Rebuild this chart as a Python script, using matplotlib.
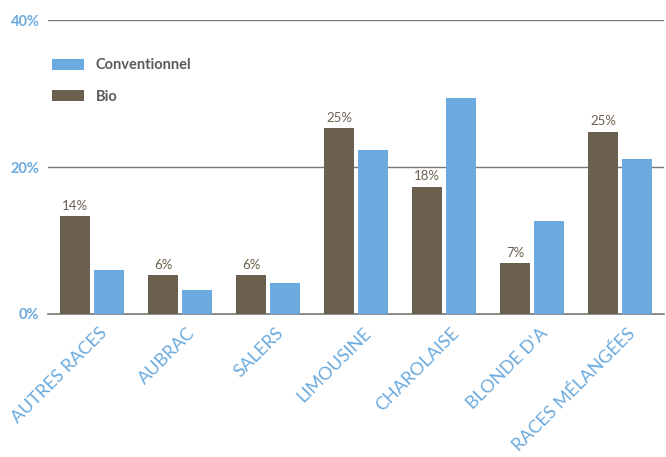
import numpy as np
import matplotlib.pyplot as plt

races = ["AUTRES RACES", "AUBRAC", "SALERS", "LIMOUSINE", "CHAROLAISE",
         "BLONDE D'A", "RACES MÉLANGÉES"]
bio = [13.3, 5.3, 5.3, 25.3, 17.3, 6.9, 24.8]
conventionnel = [6.0, 3.3, 4.2, 22.3, 29.4, 12.7, 21.1]
bio_labels = ["14%", "6%", "6%", "25%", "18%", "7%", "25%"]
y_ticks = [0, 20, 40]

brown = "#6b5f4f"
blue = "#6aaade"

fig = plt.figure(figsize=(6.66, 4.57), dpi=100)
ax = fig.add_axes([0.072, 0.313, 0.925, 0.643])

x = np.arange(len(races))
w = 0.34
ax.bar(x - w / 2 - 0.02, bio, width=w, color=brown, label="Bio", zorder=3)
ax.bar(x + w / 2 + 0.02, conventionnel, width=w, color=blue,
       label="Conventionnel", zorder=3)

for xi, v, lab in zip(x, bio, bio_labels):
    ax.text(xi - w / 2 - 0.02, v + 0.6, lab, ha="center", va="bottom",
            fontsize=9.5, color=brown, family="Lato")

ax.set_xlim(-0.5, len(races) - 0.5)
ax.set_ylim(0, 40)
ax.set_yticks(y_ticks)
ax.set_yticklabels([f"{t}%" for t in y_ticks], color=blue, fontsize=10.5,
                   fontweight="bold", family="Lato")
ax.tick_params(axis="y", length=0, pad=6)
ax.tick_params(axis="x", length=0, pad=8)
ax.set_xticks(x + 0.08)
ax.set_xticklabels(races, rotation=45, ha="right", rotation_mode="anchor",
                   color=blue, fontsize=13, family="Lato")

for t in y_ticks[1:]:
    ax.axhline(t, color="#777777", lw=1.0, zorder=1)
for s in ["top", "right", "left"]:
    ax.spines[s].set_visible(False)
ax.spines["bottom"].set_color("#777777")
ax.spines["bottom"].set_linewidth(1.2)

handles, labels = ax.get_legend_handles_labels()
leg = ax.legend(handles[::-1], labels[::-1], loc="upper left",
                bbox_to_anchor=(-0.015, 0.915), frameon=False,
                handlelength=2.2, handleheight=0.8, labelspacing=1.2,
                prop={"family": "Lato", "weight": "bold", "size": 10.5})
for txt in leg.get_texts():
    txt.set_color("#5a5a5a")

fig.savefig("out.png", dpi=100)
